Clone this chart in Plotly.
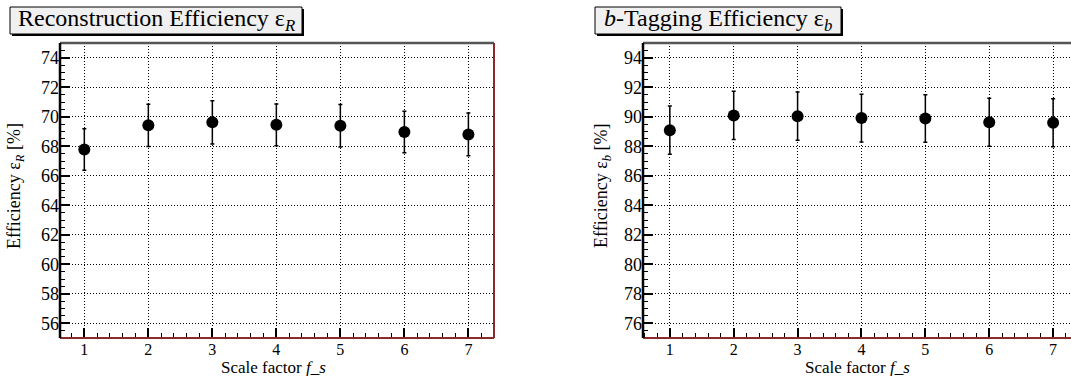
import plotly.graph_objects as go

# ---- data ----
scale_factors = [1, 2, 3, 4, 5, 6, 7]
reco_eff = [67.78, 69.42, 69.62, 69.45, 69.39, 68.97, 68.80]
reco_err = [1.40, 1.43, 1.47, 1.42, 1.44, 1.41, 1.45]
btag_eff = [89.09, 90.09, 90.04, 89.91, 89.88, 89.63, 89.59]
btag_err = [1.64, 1.64, 1.63, 1.62, 1.61, 1.63, 1.63]
reco_yticks = [56, 58, 60, 62, 64, 66, 68, 70, 72, 74]
btag_yticks = [76, 78, 80, 82, 84, 86, 88, 90, 92, 94]

W, H = 1071, 376
FONT = "Liberation Serif"


def px(x):
    return x / W


def py(y):
    return 1 - y / H


fig = go.Figure()

for xa, ya, vals, errs in [("x", "y", reco_eff, reco_err), ("x2", "y2", btag_eff, btag_err)]:
    fig.add_trace(go.Scatter(
        x=scale_factors, y=vals, xaxis=xa, yaxis=ya, mode="markers",
        marker=dict(color="black", size=12, symbol="circle"),
        error_y=dict(type="data", array=errs, visible=True, color="black",
                     thickness=1.5, width=2),
        showlegend=False,
    ))

GRID_DASH = "1px,2px"
common_x = dict(
    tickmode="array", tickvals=scale_factors, ticktext=[str(v) for v in scale_factors],
    ticks="inside", ticklen=10, tickwidth=1.5, tickcolor="black",
    showgrid=True, gridcolor="black", griddash=GRID_DASH, gridwidth=1,
    zeroline=False, showline=False,
    tickfont=dict(family=FONT, size=16, color="black"),
    minor=dict(dtick=0.2, tick0=0, ticks="inside", ticklen=5, tickcolor="black",
               tickwidth=1.2, showgrid=False),
)
common_y = dict(
    ticks="inside", ticklen=10, tickwidth=1.5, tickcolor="black",
    showgrid=True, gridcolor="black", griddash=GRID_DASH, gridwidth=1,
    zeroline=False, showline=False,
    tickfont=dict(family=FONT, size=18, color="black"),
    minor=dict(dtick=0.5, tick0=0, ticks="inside", ticklen=5, tickcolor="black",
               tickwidth=1.2, showgrid=False),
)

ydom = [py(338), py(43)]

fig.update_layout(
    width=W, height=H, margin=dict(l=0, r=0, t=0, b=0),
    paper_bgcolor="white", plot_bgcolor="white",
    font=dict(family=FONT, color="black"),
    xaxis=dict(domain=[px(60), px(494)], range=[0.62, 7.40], anchor="y", **common_x),
    yaxis=dict(domain=ydom, range=[55, 75], anchor="x",
               tickvals=reco_yticks, ticktext=[str(v) for v in reco_yticks], **common_y),
    xaxis2=dict(domain=[px(643), 1.0], range=[0.58, 7.28], anchor="y2", **common_x),
    yaxis2=dict(domain=ydom, range=[75, 95], anchor="x2",
                tickvals=btag_yticks, ticktext=[str(v) for v in btag_yticks], **common_y),
)

shapes = []
# frames
for xr, yr, has_right in [("x domain", "y domain", True), ("x2 domain", "y2 domain", False)]:
    shapes.append(dict(type="line", xref=xr, yref=yr, x0=0, x1=1, y0=1, y1=1,
                       line=dict(color="#555555", width=2.5), layer="above"))
    shapes.append(dict(type="line", xref=xr, yref=yr, x0=0, x1=1, y0=0, y1=0,
                       line=dict(color="#8a2a2a", width=2), layer="above"))
    shapes.append(dict(type="line", xref=xr, yref=yr, x0=0, x1=0, y0=0, y1=1,
                       line=dict(color="black", width=2.5), layer="above"))
    if has_right:
        shapes.append(dict(type="line", xref=xr, yref=yr, x0=1, x1=1, y0=0, y1=1,
                           line=dict(color="#8a2a2a", width=2), layer="above"))

# title boxes with shadow
for (x0, x1) in [(10, 302), (595, 841)]:
    shapes.append(dict(type="rect", xref="paper", yref="paper",
                       x0=px(x0 + 2), x1=px(x1 + 2), y0=py(36), y1=py(9),
                       fillcolor="black", line=dict(width=0), layer="above"))
    shapes.append(dict(type="rect", xref="paper", yref="paper",
                       x0=px(x0), x1=px(x1), y0=py(34), y1=py(7),
                       fillcolor="#f0f0f0", line=dict(color="black", width=1), layer="above"))
fig.update_layout(shapes=shapes)

fig.add_annotation(x=px(156), y=py(20), xref="paper", yref="paper", showarrow=False,
                   text="Reconstruction Efficiency ε<sub><i>R</i></sub>",
                   font=dict(family=FONT, size=24, color="black"), xanchor="center", yanchor="middle")
fig.add_annotation(x=px(718), y=py(20), xref="paper", yref="paper", showarrow=False,
                   text="<i>b</i>-Tagging Efficiency ε<sub><i>b</i></sub>",
                   font=dict(family=FONT, size=24, color="black"), xanchor="center", yanchor="middle")

# axis titles
for cx in [273, 857]:
    fig.add_annotation(x=px(cx), y=0, xref="paper", yref="paper", showarrow=False,
                       text="Scale factor <i>f</i>_<i>s</i>", borderpad=0,
                       font=dict(family=FONT, size=17, color="black"),
                       xanchor="center", yanchor="bottom", yshift=-2)
for cx, txt in [(15, "Efficiency ε<sub><i>R</i></sub> [%]"), (602, "Efficiency ε<sub><i>b</i></sub> [%]")]:
    fig.add_annotation(x=px(cx), y=py(186), xref="paper", yref="paper", showarrow=False,
                       text=txt, textangle=-90,
                       font=dict(family=FONT, size=18, color="black"),
                       xanchor="center", yanchor="middle")

fig.write_html("out.html")
